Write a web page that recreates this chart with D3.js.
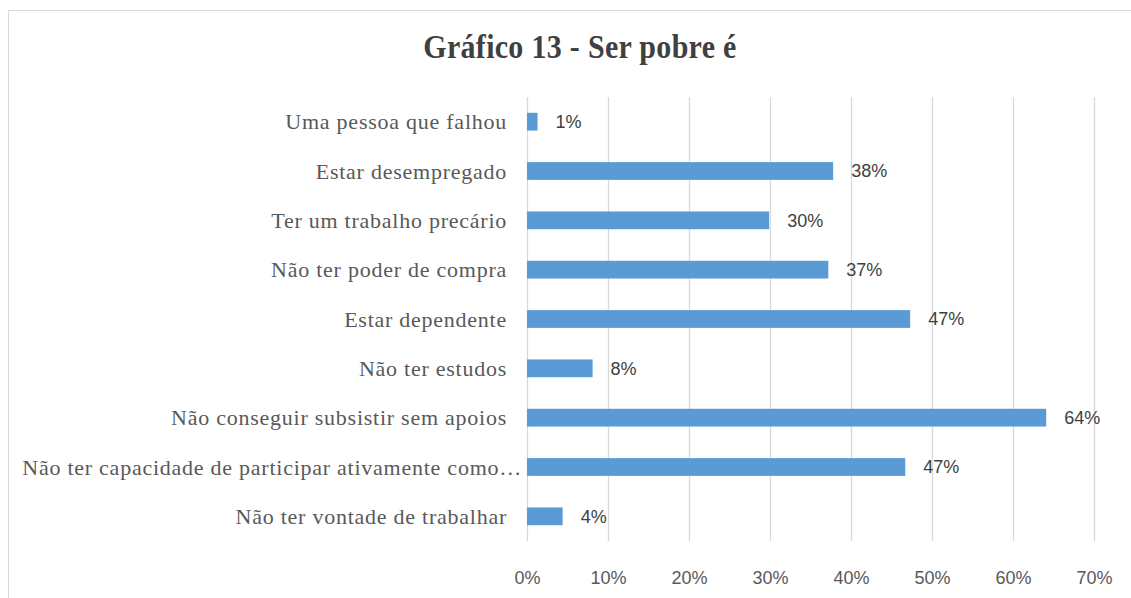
<!DOCTYPE html>
<html>
<head>
<meta charset="utf-8">
<script src="https://cdn.jsdelivr.net/npm/d3@7"></script>
<style>
  body { margin: 0; background: #fff; }
</style>
</head>
<body>
<div id="chart"></div>
<script>
// Gráfico 13 - Ser pobre é

const categories = [
  "Uma pessoa que falhou",
  "Estar desempregado",
  "Ter um trabalho precário",
  "Não ter poder de compra",
  "Estar dependente",
  "Não ter estudos",
  "Não conseguir subsistir sem apoios",
  "Não ter capacidade de participar ativamente como…",
  "Não ter vontade de trabalhar"
];
const values = [1.3, 37.8, 29.9, 37.2, 47.3, 8.1, 64.1, 46.7, 4.4];
const valueLabels = ["1%", "38%", "30%", "37%", "47%", "8%", "64%", "47%", "4%"];
const ticks = [0, 10, 20, 30, 40, 50, 60, 70];

let width = 1131,
    height = 598,
    margin = ({ top: 97, right: 37, bottom: 57, left: 527 });

const svg = d3.select("#chart")
    .append("svg")
    .attr("width", width)
    .attr("height", height);

// chart frame
svg.append("path")
    .attr("d", `M8.5,${height} V10.5 H${width}`)
    .attr("fill", "none")
    .attr("stroke", "#d9d9d9")
    .attr("stroke-width", 1);

let x = d3.scaleLinear()
    .domain([0, 70])
    .range([margin.left, width - margin.right]);

let y = d3.scaleBand()
    .domain(categories)
    .range([margin.top, height - margin.bottom])
    .paddingInner(0.64)
    .paddingOuter(0.32);

// gridlines
svg.append("g")
    .selectAll("line")
    .data(ticks)
    .join("line")
    .attr("x1", d => Math.round(x(d)) + 0.5)
    .attr("x2", d => Math.round(x(d)) + 0.5)
    .attr("y1", margin.top)
    .attr("y2", height - margin.bottom)
    .attr("stroke", "#d9d9d9")
    .attr("stroke-width", 1.3);

// x tick labels
svg.append("g")
    .attr("transform", `translate(0,${height - margin.bottom + 40})`)
    .call(d3.axisBottom(x).tickValues(ticks).tickFormat(d => d + "%").tickSize(0))
    .call(g => g.select(".domain").remove())
    .call(g => g.selectAll("text")
        .attr("dy", 0)
        .attr("font-family", "Liberation Sans, sans-serif")
        .attr("font-size", 18)
        .attr("fill", "#595959"));

// bars
svg.append("g")
    .selectAll("rect")
    .data(values)
    .join("rect")
    .attr("x", x(0))
    .attr("y", (d, i) => y(categories[i]))
    .attr("width", d => x(d) - x(0))
    .attr("height", y.bandwidth())
    .attr("fill", "#5b9bd5");

// category labels
svg.append("g")
    .selectAll("text")
    .data(categories)
    .join("text")
    .attr("x", (d, i) => i === 7 ? x(0) - 5 : x(0) - 20)
    .attr("y", d => y(d) + y.bandwidth() / 2)
    .attr("dy", "0.35em")
    .attr("text-anchor", "end")
    .attr("font-family", "Liberation Serif, serif")
    .attr("font-size", 22)
    .attr("letter-spacing", "0.75px")
    .attr("fill", "#595959")
    .text(d => d);

// value labels
svg.append("g")
    .selectAll("text")
    .data(values)
    .join("text")
    .attr("x", d => x(d) + 18)
    .attr("y", (d, i) => y(categories[i]) + y.bandwidth() / 2)
    .attr("dy", "0.35em")
    .attr("font-family", "Liberation Sans, sans-serif")
    .attr("font-size", 18)
    .attr("fill", "#404040")
    .text((d, i) => valueLabels[i]);

// title
svg.append("text")
    .attr("transform", "translate(580,58) scale(1,1.15)")
    .attr("text-anchor", "middle")
    .attr("font-family", "Liberation Serif, serif")
    .attr("font-weight", "bold")
    .attr("font-size", 30)
    .attr("letter-spacing", "0.3px")
    .attr("fill", "#404040")
    .text("Gráfico 13 - Ser pobre é");
</script>
</body>
</html>
